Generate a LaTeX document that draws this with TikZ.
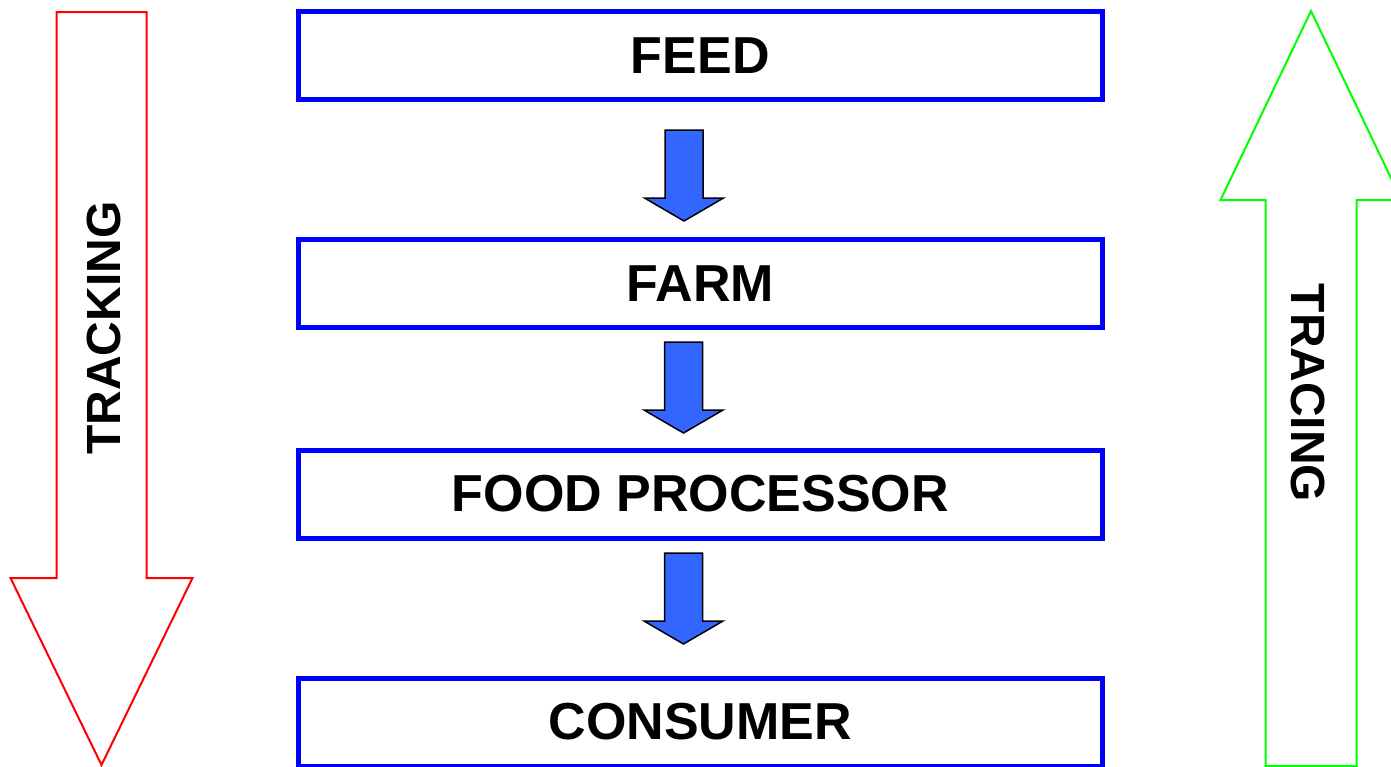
\documentclass[tikz,border=0pt]{standalone}
\usepackage{fontspec}
\setmainfont{Liberation Sans}
\usetikzlibrary{calc}
\definecolor{boxblue}{HTML}{0000FF}
\definecolor{arrowblue}{HTML}{3366FF}
\definecolor{trackred}{HTML}{FF0000}
\definecolor{tracegreen}{HTML}{00FF00}
\tikzset{
  stagebox/.style={draw=boxblue, line width=5pt, fill=white, minimum width=803.5pt, minimum height=88pt, inner sep=0pt, font=\fontsize{52}{60}\selectfont\bfseries},
  blockarrow/.style={draw=black, line width=1.5pt, fill=arrowblue, line join=miter},
  bigarrow/.style={line width=2pt, fill=none, line join=miter},
  sidelabel/.style={inner sep=0pt, font=\fontsize{48}{56}\selectfont\bfseries}
}
\newcommand{\myblockarrow}[2]{%
  \draw[blockarrow] ($(#1)+(-19,0)$) -- ++(38,0) -- ++(0,68) -- ++(20.5,0) -- ($(#1)+(0,91)$) -- ($(#1)+(-39.5,68)$) -- ++(20.5,0) -- cycle;}
\begin{document}
\begin{tikzpicture}[x=1pt,y=-1pt]
\useasboundingbox (0,0) rectangle (1391,766);
\clip (0,0) rectangle (1391,766);
% side arrows
\draw[bigarrow, draw=trackred] (56.5,12) -- (146.5,12) -- (146.5,578) -- (192.5,578) -- (101.5,765) -- (10.5,578) -- (56.5,578) -- cycle;
\draw[bigarrow, draw=tracegreen] (1311,11) -- (1401.5,200) -- (1356.5,200) -- (1356.5,766) -- (1265.5,766) -- (1265.5,200) -- (1220.5,200) -- cycle;
\node[sidelabel, rotate=90] (tracking) at (104,328) {TRACKING};
\node[sidelabel, rotate=-90] (tracing) at (1308,393) {TRACING};
% stage boxes
\node[stagebox] (feed) at (700.25,55.75) {FEED};
\node[stagebox] (farm) at (700.25,283.5) {FARM};
\node[stagebox] (proc) at (700.25,494) {FOOD PROCESSOR};
\node[stagebox] (cons) at (700.25,722) {CONSUMER};
% block arrows
\coordinate (a1) at (684,130);
\coordinate (a2) at (683.5,342);
\coordinate (a3) at (683.5,553);
\myblockarrow{a1}{}
\myblockarrow{a2}{}
\myblockarrow{a3}{}
\end{tikzpicture}
\end{document}
